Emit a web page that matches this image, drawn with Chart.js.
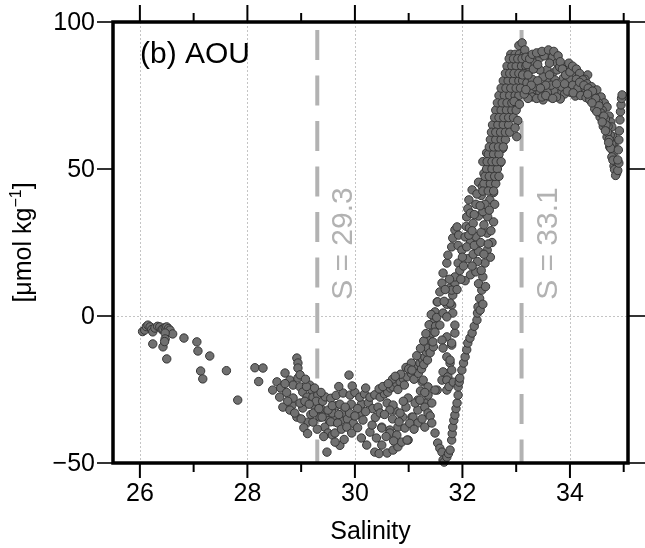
<!DOCTYPE html>
<html>
<head>
<meta charset="utf-8">
<script src="https://cdn.jsdelivr.net/npm/chart.js@4.4.0/dist/chart.umd.min.js"></script>
<style>
  html, body { margin: 0; padding: 0; background: #fff; }
</style>
</head>
<body>
<canvas id="aou_scatter" width="645" height="548"></canvas>
<script>
/* 데이터 : [salinity, AOU] */
const freshPts = [
  [26.05,-5.3],[26.09,-4.8],[26.12,-3.6],[26.15,-3.1],[26.19,-3.7],[26.22,-4.6],[26.24,-5.4],[26.28,-4.1],
  [26.33,-3.5],[26.37,-3.7],[26.41,-4.6],[26.43,-4.4],[26.47,-3.9],[26.50,-3.7],[26.53,-4.3],[26.56,-4.8],
  [26.61,-6.1],[26.47,-5.8],[26.47,-7.8],[26.24,-9.5],[26.43,-10.5],[26.50,-14.6],[26.46,-8.7],[26.82,-7.5],
  [27.06,-8.8],[27.08,-11.9],[27.30,-13.6],[27.13,-18.7],[27.17,-21.4],[27.61,-18.6],[27.82,-28.6],
  [28.14,-17.6],[28.29,-17.7],[28.21,-22.3]
];
const transitionPts = [
  [28.92,-14.3],[28.94,-16.0],[28.94,-17.7],[28.70,-19.4],[28.55,-22.4],[28.47,-25.2],[28.60,-27.6],[28.66,-31.0],
  [28.83,-30.3],[28.79,-21.8],[28.85,-23.5],[28.98,-24.1],[28.94,-21.1],[29.03,-25.9],[29.16,-23.5],[29.20,-25.2],
  [29.11,-27.6],[29.22,-27.6],[29.31,-26.9],[29.35,-29.6],[29.39,-32.0],[29.26,-31.0],[29.13,-36.1],[29.22,-36.1],
  [29.35,-34.4],[28.92,-34.4],[28.79,-32.0],[29.03,-31.3],[29.44,-37.8],[29.50,-39.8],[29.48,-46.3],[28.85,-27.9],
  [28.98,-29.6],[28.62,-24.5],[28.73,-26.0],[28.88,-33.0],[29.00,-35.0],[29.07,-29.0],[29.18,-33.5],[29.28,-29.0],
  [29.30,-38.5],[29.40,-29.0],[29.45,-27.5],[29.42,-41.0],[29.10,-24.0],[29.25,-24.5],[29.37,-26.0],
  [29.15,-30.0],[29.23,-33.0],[29.33,-31.5],[29.47,-33.5],[29.52,-35.5],[29.58,-33.0],[29.62,-36.0],[29.66,-30.5],
  [29.74,-35.5],[29.78,-33.0],[29.86,-35.0],[29.93,-30.0],[29.97,-36.5],[30.08,-33.5],[30.12,-30.0],[30.25,-29.5],
  [30.33,-31.5],[30.38,-34.5],[29.05,-38.0],[29.12,-40.0],[29.58,-40.5],[29.72,-44.0],[28.98,-20.0],[29.08,-21.5],
  [28.75,-29.0],[28.70,-23.0]
];
const upperArcPts = [
  [29.55,-28.0],[29.65,-27.0],[29.78,-26.2],[29.91,-26.9],[30.00,-26.0],[30.09,-27.6],[30.18,-26.5],[30.28,-27.6],
  [30.37,-26.8],[30.47,-27.6],[30.55,-26.5],[30.61,-25.9],[30.66,-24.5],[30.71,-24.1],[30.78,-23.0],[30.84,-22.4],
  [30.90,-21.3],[30.97,-20.7],[31.05,-19.5],[31.12,-18.4],[31.17,-17.0],[31.21,-16.0],[31.26,-14.8],[31.30,-13.9],
  [31.33,-12.3],[31.36,-10.9],[31.40,-8.2],[31.43,-5.8],[31.45,-2.4],[31.49,1.4],[31.53,4.8],
  [29.70,-24.0],[29.95,-23.8],[30.20,-24.5],[30.45,-24.8],[30.70,-21.5],[30.85,-19.8],[30.95,-17.5],[31.05,-16.0],
  [31.15,-13.5],[31.22,-11.0],[31.28,-8.5],[31.32,-6.0],[31.38,-3.0],[31.42,0.5],[29.89,-20.1],
  [30.52,-24.0],[30.62,-23.0],[30.75,-20.5],[30.80,-25.0],[30.92,-23.5],[31.00,-18.0],[31.10,-21.5],[31.18,-19.5],
  [31.24,-18.0],[31.28,-16.5],[31.35,-15.0],[31.40,-12.5],[31.46,-10.5],[31.50,-3.5],[31.52,-0.5]
];
const lowerArcPts = [
  [29.39,-34.4],[29.55,-36.0],[29.63,-39.8],[29.68,-36.4],[29.63,-42.9],[29.75,-38.5],[29.85,-37.8],[29.94,-39.8],
  [30.05,-38.0],[30.15,-35.4],[30.22,-43.9],[30.28,-39.5],[30.37,-46.3],[30.45,-46.8],[30.50,-43.9],[30.60,-46.6],
  [30.71,-45.6],[30.80,-44.5],[30.87,-42.9],[30.99,-42.2],[29.80,-42.0],[29.70,-33.5],[29.90,-33.0],[30.05,-31.5],
  [30.12,-41.5],[29.50,-32.0],[29.58,-30.5],[29.72,-30.0],[29.82,-31.0],[30.00,-34.0],[30.20,-32.5]
];
const middlePts = [
  [30.43,-31.0],[30.60,-29.6],[30.74,-32.0],[30.89,-34.4],[31.06,-34.4],[31.17,-32.0],[31.30,-29.6],[31.17,-28.6],
  [30.99,-27.9],[31.25,-22.4],[31.06,-18.4],[30.71,-30.3],[30.80,-37.8],[30.65,-38.8],[30.50,-37.8],[30.93,-38.1],
  [31.43,-29.6],[31.36,-26.9],[31.53,-25.2],[31.62,-21.8],[31.64,-19.0],[31.73,-20.7],[31.77,-16.0],[31.71,-13.9],
  [31.80,-9.9],[31.71,-7.1],[31.86,-5.8],[31.62,-8.2],[31.45,-8.8],[31.49,-5.5],[31.58,-3.1],[31.64,1.0],
  [31.71,4.0],[31.80,3.7],[31.82,7.1],[31.77,9.5],[31.86,11.2],[30.32,-37.1],[30.50,-38.1],[30.65,-39.8],
  [30.78,-40.5],[30.97,-42.2],[30.47,-33.0],[30.65,-32.0],[30.84,-33.0],[31.12,-29.6],[31.21,-28.6],[31.08,-34.4],
  [31.17,-36.4],[31.30,-37.8],[31.27,-21.8],[31.36,-24.1],[31.49,-25.2],[31.71,-21.8],[31.71,-25.2],[31.80,-18.4],
  [31.77,-15.0],[31.64,-10.9],[31.80,-9.2],[31.86,-3.1],[31.82,1.0],[31.75,-24.0],[31.83,-22.5],
  [30.55,-33.5],[30.70,-35.0],[30.82,-36.0],[30.95,-31.0],[31.02,-36.5],[31.10,-38.5],[31.25,-35.0],[31.22,-25.5],
  [31.30,-26.0],[30.90,-29.0],[30.58,-41.0],[30.40,-41.5],[30.72,-42.5]
];
const vDipPts = [
  [31.30,-31.0],[31.36,-33.0],[31.40,-34.0],[31.43,-36.4],[31.49,-39.8],[31.54,-43.2],[31.58,-45.0],[31.62,-46.3],
  [31.64,-49.0],[31.66,-49.7],[31.71,-48.0],[31.74,-46.8],[31.77,-45.6],[31.80,-42.2],[31.81,-40.0],[31.82,-37.8],
  [31.84,-35.5],[31.86,-33.7],[31.88,-31.5],[31.90,-29.6],[31.92,-26.9],[31.92,-24.1],[31.94,-22.5],[31.95,-21.1],
  [31.99,-18.4],[32.02,-16.0],[32.05,-13.9],[32.08,-11.5],[32.10,-9.2],[32.14,-7.5],[32.18,-5.8],[32.22,-3.5],
  [32.27,-1.4],[32.28,1.0],[32.29,3.1],[32.32,6.0],[32.36,8.8]
];
const risePts = [
  [31.54,4.8],[31.58,8.2],[31.62,11.2],[31.64,14.6],[31.71,18.0],[31.73,20.7],[31.80,23.5],[31.82,26.5],
  [31.86,29.3],[31.90,30.3],[31.93,27.5],[31.92,24.0],
  [31.71,-0.3],[31.77,4.4],[31.80,8.8],[31.86,13.3],[31.92,18.0],[31.99,22.4],[32.05,26.9],[32.07,30.5],
  [32.08,33.7],[32.10,36.5],[32.12,39.5],[32.18,42.9],[32.15,35.0],[32.13,30.0],
  [32.33,2.0],[32.38,13.3],[32.42,18.0],[32.46,22.4],[32.46,28.2],[32.47,33.7],[32.51,39.5],[32.55,45.2],
  [32.60,50.7],[32.66,56.5],
  [32.05,12.0],[32.15,14.0],[32.25,15.0],[32.10,19.5],[32.20,21.0],[32.30,22.0],[32.15,25.0],[32.25,27.0],
  [32.35,28.5],[32.20,31.5],[32.30,34.0],[32.38,35.5],[32.25,38.0],[32.35,41.0],[32.42,43.0],[32.30,45.5],
  [32.40,48.5],[32.48,50.0],[32.38,52.5],[32.45,55.5],[32.52,57.5],[32.55,25.0],[32.58,32.0],[32.60,38.0],
  [32.52,20.0],[32.58,42.0],[32.62,47.0],[32.70,52.0],[32.75,57.0],
  [31.95,15.5],[32.00,20.0],[32.02,17.0],[32.08,23.5],[32.12,27.5],[32.18,29.0],[32.22,24.0],[32.28,18.5],
  [32.34,25.0],[32.40,31.0],[32.42,38.0],[32.33,37.5],[32.22,34.5],[32.27,41.5],[32.45,46.0],[32.37,44.0],
  [32.50,36.0],[32.53,29.0],[32.48,24.5],[32.40,21.0],[32.35,15.5],[32.30,11.0],[32.43,10.0],[32.38,4.0],
  [32.18,17.0],[31.97,12.5],[31.90,9.0],[31.76,12.5],[31.68,9.0],[31.66,5.0]
];
const upperRisePts = [
  [32.40,45.0],[32.52,45.0],[32.62,45.0],[32.45,50.0],[32.55,50.0],[32.65,50.0],[32.48,55.0],[32.58,55.0],
  [32.68,55.0],[32.52,60.0],[32.62,60.0],[32.72,60.0],[32.80,60.0],[32.56,65.0],[32.66,65.0],[32.76,65.0],
  [32.86,65.0],[32.62,70.0],[32.72,70.0],[32.82,70.0],[32.92,70.0],[32.68,75.0],[32.78,75.0],[32.88,75.0],
  [32.98,75.0],[33.05,75.0],[32.76,80.0],[32.85,80.0],[32.95,80.0],[33.05,80.0],[33.12,80.0],[32.83,85.0],
  [32.92,85.0],[33.00,85.0],[33.10,85.0],[33.18,85.0],[32.90,89.0],[32.98,89.0],[33.06,89.0],[33.15,89.0],
  [33.05,92.0],[33.11,92.9],[33.16,90.5],
  [32.38,42.5],[32.48,42.5],[32.58,42.5],[32.42,47.5],[32.50,47.5],[32.60,47.5],[32.68,47.5],
  [32.46,52.5],[32.55,52.5],[32.63,52.5],[32.72,52.5],[32.50,57.5],[32.58,57.5],[32.67,57.5],[32.76,57.5],
  [32.54,62.5],[32.62,62.5],[32.71,62.5],[32.80,62.5],[32.88,62.5],[32.60,67.5],[32.68,67.5],[32.77,67.5],
  [32.86,67.5],[32.95,67.5],[32.65,72.5],[32.74,72.5],[32.83,72.5],[32.92,72.5],[33.00,72.5],[32.72,77.5],
  [32.81,77.5],[32.90,77.5],[33.00,77.5],[33.08,77.5],[32.80,82.5],[32.88,82.5],[32.96,82.5],[33.05,82.5],
  [33.14,82.5],[32.87,87.5],[32.95,87.5],[33.03,87.5],[33.11,87.5],
  [32.96,73.0],[33.00,70.0],[33.03,66.5],[32.98,64.0],[33.01,61.0],[33.06,72.0]
];
const plateauPts = [
  [33.26,83.7],[33.35,86.1],[33.44,87.8],[33.57,88.8],[33.68,88.1],[33.76,86.1],[33.68,82.7],[33.59,80.3],
  [33.50,77.9],[33.39,75.9],[33.26,76.9],[33.20,79.3],[33.57,83.7],[33.50,81.3],[33.50,73.5],[33.44,89.5],
  [33.44,83.7],[33.76,83.7],[33.94,84.7],[34.06,82.7],[33.81,75.9],[33.63,74.5],[33.44,75.9],[34.33,82.0],
  [34.22,80.3],[34.09,82.7],[33.96,83.7],[33.85,77.9],[33.72,80.3],[33.81,84.7],
  [33.20,85.5],[33.30,80.5],[33.35,78.0],[33.30,74.5],[33.40,80.0],[33.62,86.0],[33.52,88.5],[33.88,81.0],
  [33.95,78.5],[34.00,80.5],[34.15,79.0],[34.12,76.5],[34.02,76.0],[33.90,75.5],[33.70,76.5],[33.58,76.0],
  [33.22,74.0],[33.15,75.5],[33.12,82.0],[34.25,77.0],[33.98,86.0],
  [33.18,88.0],[33.25,87.5],[33.30,89.0],[33.38,89.5],[33.48,90.0],[33.60,90.5],[33.70,90.0],[33.78,88.5],
  [33.82,86.5],[33.86,84.0],[33.92,82.0],[34.00,83.0],[34.05,85.0],[34.12,84.0],[34.18,82.5],[34.28,80.5],
  [34.12,80.5],[34.05,78.5],[33.95,76.5],[33.82,73.8],[33.75,74.5],[33.65,78.5],[33.55,78.5],[33.45,77.5],
  [33.38,74.0],[33.28,78.5],[33.18,77.0],[33.22,82.0],[33.32,84.0],[33.40,85.5],[33.62,82.0],[33.75,79.0],
  [33.90,79.0],[34.20,78.0],[33.48,74.5],[33.55,75.0],[33.68,74.0],[34.10,74.8]
];
const deepPts = [
  [34.24,80.3],[34.32,79.0],[34.40,78.0],[34.50,76.9],[34.58,74.5],[34.64,72.5],[34.69,71.1],[34.73,68.0],
  [34.76,66.0],[34.78,64.3],[34.80,61.0],[34.82,58.5],[34.84,56.5],
  [34.15,77.5],[34.28,77.6],[34.36,76.0],[34.45,74.8],[34.53,72.5],[34.60,70.0],[34.66,67.0],[34.71,64.5],
  [34.75,61.5],[34.78,58.5],[34.81,55.5],[34.84,52.5],[34.86,50.0],
  [34.06,75.9],[34.20,75.0],[34.30,74.3],[34.37,73.5],[34.46,70.5],[34.56,67.7],[34.62,64.5],[34.69,60.9],
  [34.74,57.5],[34.78,54.1],[34.82,51.0],[34.87,48.6],
  [34.18,79.5],[34.26,78.5],[34.34,77.5],[34.42,76.5],[34.48,74.0],[34.54,71.5],[34.58,69.0],[34.63,68.0],
  [34.67,65.0],[34.70,62.5],[34.73,60.0],[34.76,57.0],[34.80,53.0],[34.83,49.8],[34.85,47.8],[34.33,75.5],
  [34.41,72.5],[34.50,69.5],[34.60,66.0],[34.66,63.0],[34.72,59.0],
  [34.89,49.5],[34.91,52.0],[34.89,53.1],[34.90,56.5],[34.91,59.9],[34.92,63.0],[34.93,66.7],[34.94,69.5],
  [34.95,71.8],[34.96,74.0],[34.97,75.2]
];

// 축 눈금
const xTicks = [26, 28, 30, 32, 34];
const xMinorTicks = [27, 29, 31, 33, 35];
const yTicks = [-50, 0, 50, 100];
const yTickLabels = ['\u221250', '0', '50', '100'];
const refSalinity = [29.3, 33.1];
const refLabels = ['S = 29.3', 'S = 33.1'];

const FONT = '"Liberation Sans", Arial, Helvetica, sans-serif';
const refLabelAou = 5.5; // 세로 글자 시작 높이

let allPts = [].concat(freshPts, transitionPts, upperArcPts, lowerArcPts, middlePts, vDipPts,
                       risePts, upperRisePts, plateauPts, deepPts)
  .map(function(p) { return { x: p[0], y: p[1] }; });

/* 그리드, 점선, 테두리, 글자 */
const framePlugin = {
  id: 'framePlugin',
  beforeDatasetsDraw(chart) {
    const ctx = chart.ctx, a = chart.chartArea, xs = chart.scales.x, ys = chart.scales.y;
    ctx.save();
    // 회색 점선 그리드
    ctx.strokeStyle = '#c4c4c4';
    ctx.lineWidth = 1;
    ctx.setLineDash([2, 2]);
    xTicks.forEach(function(v) {
      const px = Math.round(xs.getPixelForValue(v)) + 0.5;
      ctx.beginPath(); ctx.moveTo(px, a.top); ctx.lineTo(px, a.bottom); ctx.stroke();
    });
    const y0 = Math.round(ys.getPixelForValue(0)) + 0.5;
    ctx.beginPath(); ctx.moveTo(a.left, y0); ctx.lineTo(a.right, y0); ctx.stroke();

    // S 기준선
    ctx.strokeStyle = '#b2b2b2';
    ctx.lineWidth = 4;
    ctx.setLineDash([30, 15.5]);
    refSalinity.forEach(function(v, i) {
      const px = xs.getPixelForValue(v);
      ctx.beginPath(); ctx.moveTo(px, a.top + 8); ctx.lineTo(px, a.bottom); ctx.stroke();
      ctx.save();
      ctx.translate(px + 35, ys.getPixelForValue(refLabelAou));
      ctx.rotate(-Math.PI / 2);
      ctx.fillStyle = '#b2b2b2';
      ctx.font = '30px ' + FONT;
      ctx.textAlign = 'left';
      ctx.textBaseline = 'alphabetic';
      ctx.fillText(refLabels[i], 0, 0);
      ctx.restore();
    });
    ctx.restore();
  },
  afterDraw(chart) {
    const ctx = chart.ctx, a = chart.chartArea, xs = chart.scales.x, ys = chart.scales.y;
    ctx.save();
    ctx.setLineDash([]);
    ctx.strokeStyle = '#000';
    ctx.fillStyle = '#000';

    // 눈금
    ctx.lineWidth = 1.6;
    yTicks.forEach(function(v) {
      const py = ys.getPixelForValue(v);
      ctx.beginPath(); ctx.moveTo(a.left - 16, py); ctx.lineTo(a.left, py); ctx.stroke();
      ctx.beginPath(); ctx.moveTo(a.right, py); ctx.lineTo(a.right + 17, py); ctx.stroke();
    });
    ctx.lineWidth = 2;
    xTicks.forEach(function(v) {
      const px = xs.getPixelForValue(v);
      ctx.beginPath(); ctx.moveTo(px, a.top); ctx.lineTo(px, a.top - 17); ctx.stroke();
      ctx.beginPath(); ctx.moveTo(px, a.bottom); ctx.lineTo(px, a.bottom + 15); ctx.stroke();
    });
    xMinorTicks.forEach(function(v) {
      const px = xs.getPixelForValue(v);
      ctx.beginPath(); ctx.moveTo(px, a.top); ctx.lineTo(px, a.top - 9); ctx.stroke();
      ctx.beginPath(); ctx.moveTo(px, a.bottom); ctx.lineTo(px, a.bottom + 9); ctx.stroke();
    });

    // 테두리
    ctx.lineWidth = 3.5;
    ctx.strokeRect(a.left, a.top, a.right - a.left, a.bottom - a.top);

    // 눈금 라벨
    ctx.font = '25px ' + FONT;
    ctx.textAlign = 'right';
    ctx.textBaseline = 'middle';
    yTicks.forEach(function(v, i) {
      ctx.fillText(yTickLabels[i], a.left - 18, ys.getPixelForValue(v) + 1);
    });
    ctx.textAlign = 'center';
    ctx.textBaseline = 'alphabetic';
    xTicks.forEach(function(v) {
      ctx.fillText(String(v), xs.getPixelForValue(v), a.bottom + 38);
    });

    // 축 제목
    ctx.font = '25px ' + FONT;
    ctx.fillText('Salinity', (a.left + a.right) / 2, a.bottom + 76);

    ctx.textAlign = 'left';
    ctx.font = '30px ' + FONT;
    ctx.fillText('(b) AOU', a.left + 27, a.top + 41);

    // [μmol kg⁻¹] 세로
    const parts = [
      { t: '[\u03bcmol kg', size: 25, dy: 0 },
      { t: '\u22121', size: 16, dy: -10 },
      { t: ']', size: 25, dy: 0 }
    ];
    let total = 0;
    parts.forEach(function(p) { ctx.font = p.size + 'px ' + FONT; p.w = ctx.measureText(p.t).width; total += p.w; });
    ctx.save();
    ctx.translate(31, (a.top + a.bottom) / 2);
    ctx.rotate(-Math.PI / 2);
    let cx = -total / 2;
    parts.forEach(function(p) {
      ctx.font = p.size + 'px ' + FONT;
      ctx.fillText(p.t, cx, p.dy);
      cx += p.w;
    });
    ctx.restore();
    ctx.restore();
  }
};

new Chart(document.getElementById('aou_scatter'), {
  type: 'scatter',
  data: {
    datasets: [{
      data: allPts,
      pointRadius: 4.2,
      pointHoverRadius: 4.2,
      backgroundColor: '#707070',
      borderColor: '#363636',
      borderWidth: 1,
      clip: 6
    }]
  },
  options: {
    responsive: false,
    animation: false,
    layout: { padding: { left: 113, right: 17, top: 22, bottom: 85 } },
    plugins: {
      legend: { display: false },
      tooltip: { enabled: false }
    },
    scales: {
      x: { type: 'linear', min: 25.5, max: 35.08, display: false },
      y: { type: 'linear', min: -50, max: 100, display: false }
    }
  },
  plugins: [framePlugin]
}); // aou_scatter
</script>
</body>
</html>
